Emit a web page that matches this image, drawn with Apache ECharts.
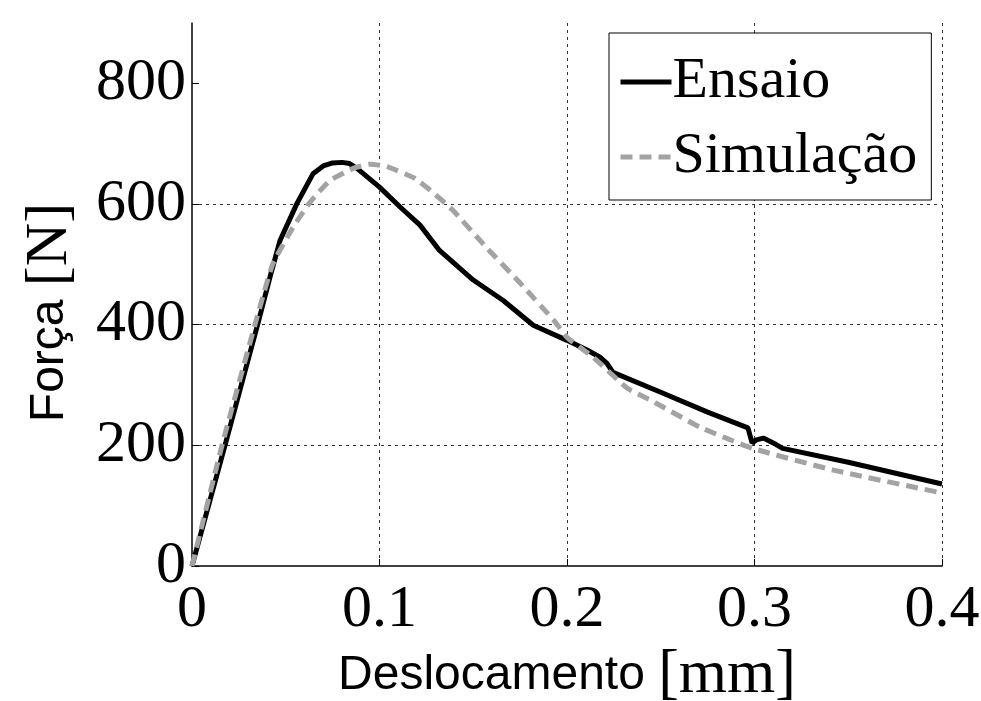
<!DOCTYPE html>
<html>
<head>
<meta charset="utf-8">
<script src="https://cdn.jsdelivr.net/npm/echarts@6/dist/echarts.min.js"></script>
<style>
  html, body { margin: 0; padding: 0; background: #fff; }
  #chart { width: 981px; height: 701px; }
</style>
</head>
<body>
<div id="chart"></div>
<script>
// Ensaio (test) curve, displacement in mm and force in N
const ensaioX = [0, 0.0176, 0.035, 0.0416, 0.047, 0.056, 0.0645, 0.070, 0.075, 0.080, 0.084, 0.088,
  0.100, 0.111, 0.1216, 0.132, 0.150, 0.166, 0.182, 0.200, 0.2107, 0.2176, 0.2213, 0.2245,
  0.250, 0.275, 0.2965, 0.2987, 0.301, 0.3047, 0.310, 0.315, 0.350, 0.400];
const ensaioY = [0, 200, 400, 479, 540, 601, 650, 663, 668, 669, 667, 659,
  628, 595, 565, 523, 474, 440, 399, 374, 358, 346, 336, 321,
  288, 255, 229, 204, 209, 212, 204, 195, 172, 136];

// Simulação (simulation) curve
const simX = [0, 0.016, 0.0336, 0.043, 0.054, 0.063, 0.0736, 0.086, 0.095, 0.104, 0.118, 0.1216,
  0.127, 0.139, 0.157, 0.175, 0.193, 0.200, 0.214, 0.232, 0.2445, 0.271, 0.299, 0.342, 0.400];
const simY = [0, 200, 400, 500, 562, 603, 639, 659, 666, 662, 644, 636,
  623, 590, 528, 469, 407, 379, 346, 295, 275, 230, 195, 159, 121];

const yTicks = [0, 200, 400, 600, 800];

const serif = "'Liberation Serif', 'Times New Roman', serif";
const sans = "'Liberation Sans', Arial, sans-serif";

const chart = echarts.init(document.getElementById("chart"));

const zip = (xs, ys) => xs.map((x, i) => [x, ys[i]]);

chart.setOption({
  animation: false,
  backgroundColor: "#fff",
  grid: { left: 192, right: 39, top: 23, bottom: 135, outerBoundsMode: "none", containLabel: false },
  legend: {
    left: 609,
    top: 33,
    orient: "vertical",
    backgroundColor: "#fff",
    borderColor: "#000",
    borderWidth: 1,
    borderRadius: 0,
    padding: [20, 14, 14, 9],
    itemGap: 17,
    itemWidth: 51,
    itemHeight: 20,
    itemStyle: { opacity: 0 },
    lineStyle: { width: 5 },
    textStyle: { fontFamily: serif, fontSize: 58, color: "#000", padding: [0, 0, 0, -4] },
    data: ["Ensaio", "Simulação"]
  },
  xAxis: {
    type: "value",
    min: 0,
    max: 0.4,
    interval: 0.1,
    name: "{s|Deslocamento }{t|[mm]}",
    nameLocation: "middle",
    nameGap: 60,
    nameTextStyle: {
      rich: {
        s: { fontFamily: sans, fontSize: 48, color: "#000" },
        t: { fontFamily: serif, fontSize: 62, color: "#000" }
      }
    },
    axisLine: { lineStyle: { color: "#000", width: 1.5 } },
    axisTick: { inside: true, length: 7, lineStyle: { color: "#000" } },
    axisLabel: { fontFamily: serif, fontSize: 60, color: "#000", margin: 14 },
    splitLine: {
      show: true,
      showMinLine: false,
      lineStyle: { color: "#333", width: 1, type: [3, 4] }
    }
  },
  yAxis: {
    type: "value",
    min: 0,
    max: 900,
    interval: 200,
    name: "{s|Força }{t|[N]}",
    nameLocation: "middle",
    nameGap: 112,
    nameTextStyle: {
      padding: [0, 36, 0, 0],
      rich: {
        s: { fontFamily: sans, fontSize: 48, color: "#000" },
        t: { fontFamily: serif, fontSize: 60, color: "#000" }
      }
    },
    axisLine: { show: true, lineStyle: { color: "#000", width: 1.5 } },
    axisTick: { show: true, inside: true, length: 7, customValues: yTicks, lineStyle: { color: "#000" } },
    axisLabel: { fontFamily: serif, fontSize: 60, color: "#000", margin: 6, customValues: yTicks },
    splitLine: {
      show: true,
      showMinLine: false,
      showMaxLine: false,
      lineStyle: { color: "#333", width: 1, type: [3, 4] }
    }
  },
  series: [
    {
      name: "Ensaio",
      type: "line",
      data: zip(ensaioX, ensaioY),
      showSymbol: false,
      symbol: "none",
      lineStyle: { color: "#000", width: 5 },
      itemStyle: { color: "#000" },
      z: 3
    },
    {
      name: "Simulação",
      type: "line",
      data: zip(simX, simY),
      showSymbol: false,
      symbol: "none",
      smooth: 0.15,
      lineStyle: { color: "#a3a3a3", width: 5, type: [12, 7] },
      itemStyle: { color: "#a3a3a3" },
      z: 4
    }
  ]
});
</script>
</body>
</html>
